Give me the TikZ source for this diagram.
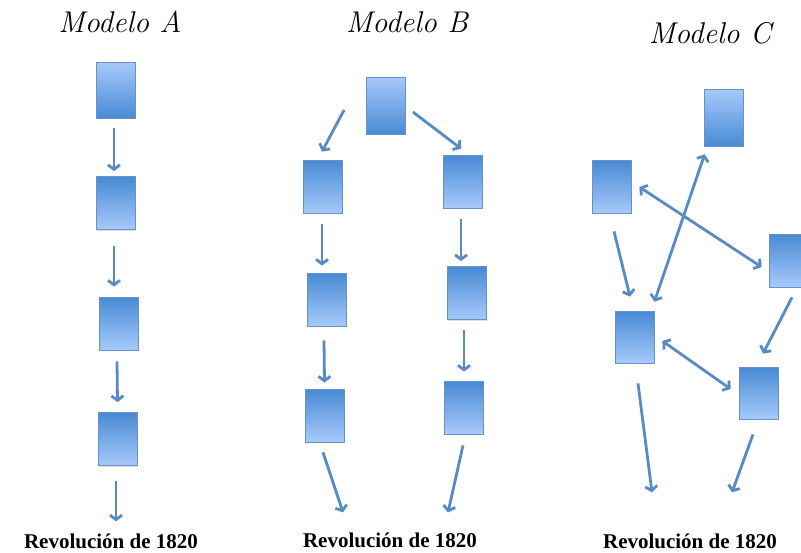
\documentclass[tikz,border=0pt]{standalone}
\usepackage{fontspec}
\usepackage{tikz}
\usetikzlibrary{arrows.meta}
\usetikzlibrary{calc}
\usetikzlibrary{shadows}

\newfontfamily\revfont{Liberation Serif}

\definecolor{boxdark}{RGB}{72,138,212}
\definecolor{boxlight}{RGB}{166,202,250}
\definecolor{boxline}{RGB}{105,145,195}
\definecolor{arrowblue}{RGB}{88,139,196}

\begin{document}
\begin{tikzpicture}[x=1pt, y=-1pt, >={Straight Barb[length=4.5pt,width=12pt]},
    arr/.style={->, line width=2.8pt, draw=arrowblue},
    darr/.style={<->, line width=2.8pt, draw=arrowblue}]
  \tikzstyle{block}=[draw=boxline, line width=0.8pt, minimum width=39pt, minimum height=53pt, inner sep=0pt,
    drop shadow={shadow xshift=0.8pt, shadow yshift=-1.2pt, opacity=0.25}]
  \tikzstyle{darktop}=[block, top color=boxdark, bottom color=boxlight]
  \tikzstyle{lighttop}=[block, top color=boxlight, bottom color=boxdark]
  \tikzstyle{modelo}=[inner sep=0pt, font=\itshape\fontsize{30}{32}\selectfont]
  \tikzstyle{rev}=[inner sep=0pt, font=\revfont\bfseries\fontsize{21}{23}\selectfont]

  \clip (0,0) rectangle (801,552);

  % titles
  \node[modelo] (tA) at (120,22) {Modelo A};
  \node[modelo] (tB) at (407,22) {Modelo B};
  \node[modelo] (tC) at (710,33) {Modelo C};

  % Modelo A
  \node[lighttop, minimum height=56pt] (A1) at (116,90) {};
  \node[darktop] (A2) at (116,203) {};
  \node[darktop] (A3) at (119,323.5) {};
  \node[darktop] (A4) at (117.5,439) {};
  \node[rev] (rA) at (111,541) {Revolución de 1820};

  \draw[arr] ($(A1.south)+(-2,10)$) -- ($(A2.north)+(-2,-5)$);
  \draw[arr] ($(A2.south)+(-2,16)$) -- ($(A3.north)+(-5,-10)$);
  \draw[arr] ($(A3.south)+(-2,11)$) -- ($(A4.north)+(0,-10)$);
  \draw[arr] ($(A4.south)+(-1.5,15)$) -- ($(rA.north)+(5,-12)$);

  % Modelo B
  \node[lighttop, minimum height=57pt] (B0) at (386,105.5) {};
  \node[darktop] (B1) at (323,186.5) {};
  \node[darktop] (B2) at (462.5,181.5) {};
  \node[darktop] (B3) at (326.5,299.5) {};
  \node[darktop] (B4) at (466.5,293) {};
  \node[darktop] (B5) at (324.5,415.5) {};
  \node[darktop] (B6) at (464,407.5) {};
  \node[rev] (rB) at (390,540) {Revolución de 1820};

  \draw[arr] ($(B0.west)+(-22,4.5)$) -- ($(B1.north)+(-1,-8)$);
  \draw[arr] ($(B0.east)+(7,6.5)$) -- ($(B2.north)+(-1.5,-6)$);
  \draw[arr] ($(B1.south)+(-1,11)$) -- ($(B3.north)+(-4.5,-7)$);
  \draw[arr] ($(B2.south)+(-1.5,11)$) -- ($(B4.north)+(-5.5,-5)$);
  \draw[arr] ($(B3.south)+(-2.5,14)$) -- ($(B5.north)+(0,-6)$);
  \draw[arr] ($(B4.south)+(-2.5,10)$) -- ($(B6.north)+(0,-9)$);
  \draw[arr] ($(B5.south)+(-1.5,10)$) -- ($(rB.north)+(-47,-20)$);
  \draw[arr] ($(B6.south)+(-1,11)$) -- ($(rB.north)+(58,-20)$);

  % Modelo C
  \node[lighttop, minimum height=57pt] (C1) at (723.5,117.5) {};
  \node[darktop] (C2) at (611.5,186.5) {};
  \node[darktop] (C3) at (788.5,260.5) {};
  \node[darktop, minimum height=52pt] (C4) at (634.5,337) {};
  \node[darktop, minimum height=52pt] (C5) at (758.5,393) {};
  \node[rev] (rC) at (690,541) {Revolución de 1820};

  \draw[arr] ($(C2.south)+(2.5,18)$) -- ($(C4.north)+(-4.5,-14)$);
  \draw[darr] ($(C4.north east)+(0,-9)$) -- ($(C1.south west)+(1,8)$);
  \draw[darr] ($(C2.east)+(8,0.5)$) -- ($(C3.west)+(-7,6.5)$);
  \draw[arr] ($(C3.south)+(3.5,10)$) -- ($(C5.north)+(4.5,-13)$);
  \draw[darr] ($(C4.east)+(8,4)$) -- ($(C5.west)+(-8,-4)$);
  \draw[arr] ($(C4.south)+(3.5,20)$) -- ($(rC.north)+(-38,-41)$);
  \draw[arr] ($(C5.south)+(-5.5,15)$) -- ($(rC.north)+(42,-41)$);
\end{tikzpicture}
\end{document}
